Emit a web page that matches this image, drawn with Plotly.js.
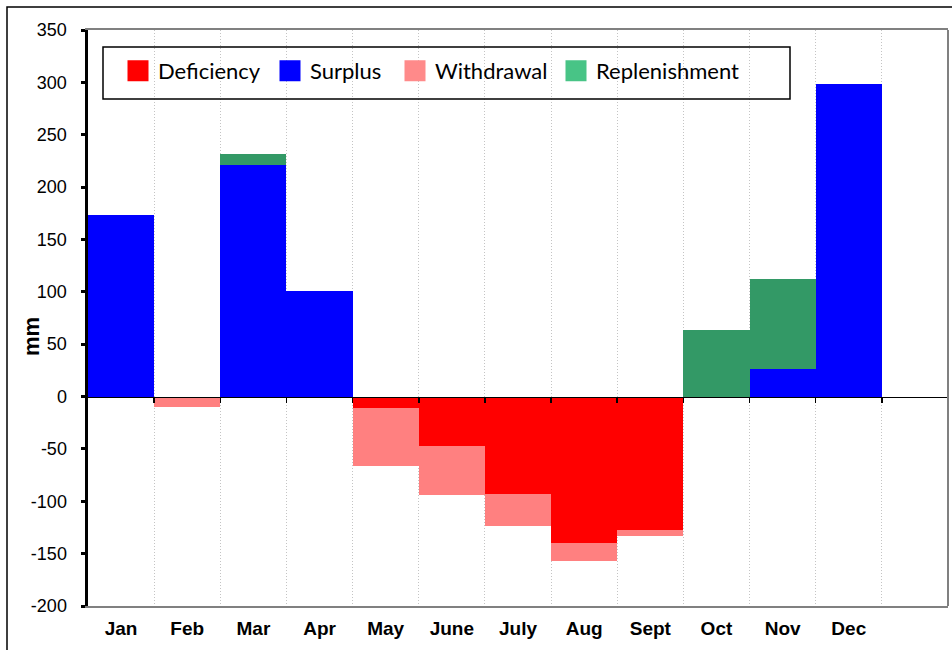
<!DOCTYPE html>
<html>
<head>
<meta charset="utf-8">
<script src="https://cdn.plot.ly/plotly-3.0.1.min.js"></script>
<style>
html,body{margin:0;padding:0;background:#fff;}
#chart{width:952px;height:650px;}
</style>
</head>
<body>
<div id="chart"></div>
<script>
// ---- data (mm) ----
var months = ['Jan','Feb','Mar','Apr','May','June','July','Aug','Sept','Oct','Nov','Dec'];
var deficiency    = [0, 0, 0, 0, -11, -47, -93, -140, -127, 0, 0, 0];
var surplus       = [173, 0, 221, 101, 0, 0, 0, 0, 0, 0, 26, 298];
var withdrawal    = [0, -10, 0, 0, -55, -47, -31, -17, -6, 0, 0, 0];
var replenishment = [0, 0, 11, 0, 0, 0, 0, 0, 0, 64, 86, 0];
var seriesNames   = ['Deficiency', 'Surplus', 'Withdrawal', 'Replenishment'];
var yTicks        = [-200, -150, -100, -50, 0, 50, 100, 150, 200, 250, 300, 350];
var yTickText     = ['-200', '-150', '-100', '-50', '0', '50', '100', '150', '200', '250', '300', '350'];

var xIdx = months.map(function(m, i){ return i + 1; });
var bounds = months.map(function(m, i){ return i + 1.5; });

var barColors    = ['#FF0000', '#0000FF', '#FF8080', '#339966'];
var legendColors = ['#FF0000', '#0000FF', '#FF8A8A', '#48C486'];
var values = [deficiency, surplus, withdrawal, replenishment];

var traces = [];
values.forEach(function(v, k){
  traces.push({
    type: 'bar', x: xIdx, y: v, name: seriesNames[k],
    width: 1, showlegend: false, hoverinfo: 'x+y+name',
    marker: {color: barColors[k], line: {width: 0}}
  });
});
// legend entries (one legend per entry so each can be placed)
var legendIds = ['legend', 'legend2', 'legend3', 'legend4'];
values.forEach(function(v, k){
  traces.push({
    type: 'scatter', mode: 'markers', x: [null], y: [null], xaxis: 'x2',
    name: seriesNames[k], legend: legendIds[k], showlegend: true,
    marker: {symbol: 'square', size: 16, color: legendColors[k],
             line: {color: legendColors[k], width: 5}}
  });
});

var L = 88, R = 4, T = 30, B = 44, W = 952, H = 650;
var pw = W - L - R, ph = H - T - B;
function px2x(px){ return (px - L) / pw; }
function py2y(py){ return (H - B - py) / ph; }

var legFont = {family: 'Lato, "Open Sans", sans-serif', size: 22, color: '#000'};
var swatchCenters = [138, 290, 415, 576];
var layout = {
  width: W, height: H,
  margin: {l: L, r: R, t: T, b: B, pad: 0},
  paper_bgcolor: '#fff', plot_bgcolor: '#fff',
  barmode: 'relative', bargap: 0,
  font: {family: '"Liberation Sans", Arial, sans-serif', color: '#000'},
  xaxis: {
    range: [0.5, 13.5], tickmode: 'array', tickvals: xIdx, ticktext: months,
    ticks: '', showgrid: false, zeroline: false,
    showline: true, linecolor: '#808080', linewidth: 2, mirror: true,
    tickfont: {family: '"Liberation Sans", Arial, sans-serif', size: 19, color: '#000', weight: 'bold'},
    ticklabelstandoff: 4,
    minor: {tickmode: 'array', tickvals: bounds, showgrid: true, gridcolor: '#c4c4c4',
            griddash: '1px,2px', gridwidth: 1, ticks: ''}
  },
  xaxis2: {
    overlaying: 'x', anchor: 'free', position: 200/550, side: 'bottom',
    range: [0.5, 13.5], tickmode: 'array', tickvals: bounds,
    ticks: 'outside', ticklen: 5, tickwidth: 1.5, tickcolor: '#000',
    showticklabels: false, showgrid: false, zeroline: false,
    showline: true, linecolor: '#000', linewidth: 1.5
  },
  yaxis: {
    range: [-200, 350], tickmode: 'array', tickvals: yTicks, ticktext: yTickText,
    ticks: 'outside', ticklen: 4, tickwidth: 3, tickcolor: '#000',
    showline: true, linecolor: '#000', linewidth: 3.5,
    showgrid: false, zeroline: false,
    tickfont: {family: '"Liberation Sans", Arial, sans-serif', size: 18, color: '#000'},
    ticklabelstandoff: 10
  },
  shapes: [
    {type: 'line', xref: 'paper', yref: 'paper', x0: 1, x1: 1, y0: 0, y1: 1,
     line: {color: '#808080', width: 2}},
    {type: 'rect', xref: 'paper', yref: 'paper',
     x0: px2x(103), x1: px2x(790), y0: py2y(99), y1: py2y(47),
     line: {color: '#000', width: 1.5}, fillcolor: 'rgba(0,0,0,0)', layer: 'above'},
    {type: 'rect', xref: 'paper', yref: 'paper',
     x0: px2x(7), x1: px2x(970), y0: py2y(670), y1: py2y(7),
     line: {color: '#000', width: 1.5}, fillcolor: 'rgba(0,0,0,0)', layer: 'below'}
  ],
  annotations: [
    {text: 'mm', xref: 'paper', yref: 'paper', x: px2x(31), y: py2y(337),
     xanchor: 'center', yanchor: 'middle', textangle: -90, showarrow: false,
     font: {family: '"Liberation Sans", Arial, sans-serif', size: 22, color: '#000', weight: 'bold'}}
  ]
};
legendIds.forEach(function(id, k){
  layout[id] = {
    x: px2x(swatchCenters[k] - 20), xanchor: 'left',
    y: py2y(71), yanchor: 'middle', orientation: 'h',
    bgcolor: 'rgba(0,0,0,0)', borderwidth: 0, font: legFont,
    itemclick: false, itemdoubleclick: false
  };
});

Plotly.newPlot('chart', traces, layout, {displayModeBar: false, staticPlot: true});
</script>
</body>
</html>
